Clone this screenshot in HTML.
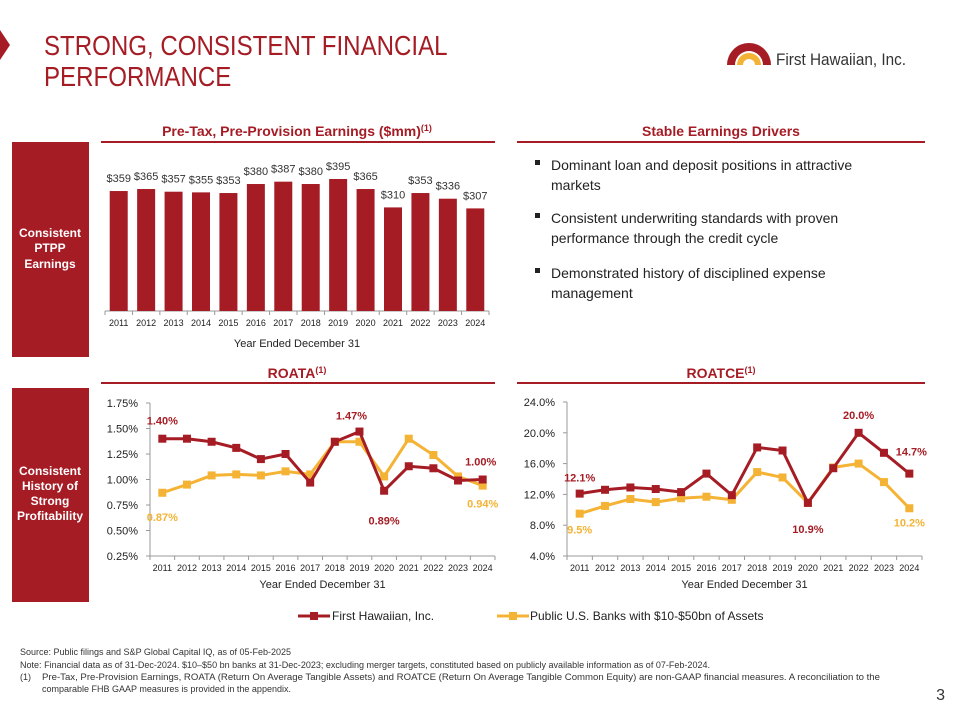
<!DOCTYPE html>
<html><head><meta charset="utf-8"><style>
body{margin:0;background:#fff;}
svg{display:block;font-family:"Liberation Sans",Arial,sans-serif;}
</style></head><body>
<svg id="s" width="960" height="720" viewBox="0 0 960 720" xmlns="http://www.w3.org/2000/svg">
<polygon points="0,30 10,45 0,60" fill="#a51c24"/>
<g fill="#a51c24" font-size="28" transform="translate(44,0) scale(0.86,1)">
<text x="0" y="55">STRONG, CONSISTENT FINANCIAL</text>
<text x="0" y="86">PERFORMANCE</text></g>
<g>
<path d="M727,65 A22,22 0 0 1 771,65 L763,65 A14,14 0 0 0 735,65 Z" fill="#a51c24"/>
<path d="M737,65 A12,12 0 0 1 761,65 L755,65 A6,6 0 0 0 743,65 Z" fill="#f5b335"/>
<text x="776" y="65" font-size="17" fill="#333" transform="translate(776,0) scale(0.9,1) translate(-776,0)">First Hawaiian, Inc.</text></g>

<rect x="12" y="142" width="77" height="215" fill="#a51c24"/>
<g fill="#fff" font-size="12" font-weight="bold" text-anchor="middle">
<text x="50" y="237">Consistent</text><text x="50" y="252">PTPP</text><text x="50" y="268">Earnings</text></g>
<rect x="12" y="388" width="77" height="214" fill="#a51c24"/>
<g fill="#fff" font-size="12" font-weight="bold" text-anchor="middle">
<text x="50" y="475">Consistent</text><text x="50" y="490">History of</text><text x="50" y="505">Strong</text><text x="50" y="520">Profitability</text></g>

<g font-size="14" font-weight="bold" fill="#a51c24" text-anchor="middle">
<text x="297" y="136">Pre-Tax, Pre-Provision Earnings ($mm)<tspan font-size="9" dy="-5">(1)</tspan></text>
<text x="721" y="136">Stable Earnings Drivers</text>
<text x="297" y="378">ROATA<tspan font-size="9" dy="-5">(1)</tspan></text>
<text x="721" y="378">ROATCE<tspan font-size="9" dy="-5">(1)</tspan></text>
<rect x="101" y="141" width="394" height="2"/><rect x="517" y="141" width="408" height="2"/>
<rect x="101" y="382" width="394" height="2"/><rect x="517" y="382" width="408" height="2"/>
</g>

<g font-size="14" fill="#222">
<rect x="535" y="160" width="5" height="5"/><text x="551" y="170">Dominant loan and deposit positions in attractive</text><text x="551" y="190">markets</text>
<rect x="535" y="213" width="5" height="5"/><text x="551" y="223">Consistent underwriting standards with proven</text><text x="551" y="243">performance through the credit cycle</text>
<rect x="535" y="268" width="5" height="5"/><text x="551" y="278">Demonstrated history of disciplined expense</text><text x="551" y="298">management</text>
</g>

<g id="bars"></g>
<g id="roata"></g>
<g id="roatce"></g>

<g font-size="12" fill="#222">
<g><line x1="298" y1="616" x2="330" y2="616" stroke="#a51c24" stroke-width="3"/><rect x="310" y="612" width="8" height="8" fill="#a51c24"/><text x="332" y="620">First Hawaiian, Inc.</text></g>
<g><line x1="497" y1="616" x2="529" y2="616" stroke="#f5b335" stroke-width="3"/><rect x="509" y="612" width="8" height="8" fill="#f5b335"/><text x="530" y="620">Public U.S. Banks with $10-$50bn of Assets</text></g>
</g>

<g font-size="9" fill="#333">
<text x="20" y="655">Source: Public filings and S&amp;P Global Capital IQ, as of 05-Feb-2025</text>
<text x="20" y="668" textLength="690" lengthAdjust="spacingAndGlyphs">Note: Financial data as of 31-Dec-2024. $10–$50 bn banks at 31-Dec-2023; excluding merger targets, constituted based on publicly available information as of 07-Feb-2024.</text>
<text x="20" y="680">(1)</text>
<text x="42" y="680" textLength="838" lengthAdjust="spacingAndGlyphs">Pre-Tax, Pre-Provision Earnings, ROATA (Return On Average Tangible Assets) and ROATCE (Return On Average Tangible Common Equity) are non-GAAP financial measures.  A reconciliation to the</text>
<text x="42" y="692">comparable FHB GAAP measures is provided in the appendix.</text>
</g>
<text x="945" y="700" font-size="16" fill="#333" text-anchor="end">3</text>
</svg>
<script>
const years = ['2011','2012','2013','2014','2015','2016','2017','2018','2019','2020','2021','2022','2023','2024'];
const ptpp = [359,365,357,355,353,380,387,380,395,365,310,353,336,307];
const roataFhb = [1.40,1.40,1.37,1.31,1.20,1.25,0.97,1.37,1.47,0.89,1.13,1.11,0.99,1.00];
const roataPeers = [0.87,0.95,1.04,1.05,1.04,1.08,1.05,1.37,1.37,1.03,1.40,1.24,1.03,0.94];
const roataTicks = [0.25,0.50,0.75,1.00,1.25,1.50,1.75];
const roatceFhb = [12.1,12.6,12.9,12.7,12.3,14.7,11.9,18.1,17.7,10.9,15.4,20.0,17.4,14.7];
const roatcePeers = [9.5,10.5,11.4,11.0,11.5,11.7,11.3,14.9,14.2,10.9,15.5,16.0,13.6,10.2];
const roatceTicks = [4,8,12,16,20,24];

const NS='http://www.w3.org/2000/svg';
const RED='#a51c24', YEL='#f5b335';
function mk(p,tag,a,txt){const e=document.createElementNS(NS,tag);for(const k in a)e.setAttribute(k,a[k]);if(txt!==undefined)e.textContent=txt;p.appendChild(e);return e;}

// Bar chart
(function(){
  const g=document.getElementById('bars');
  const x0=105,x1=489,base=311,band=(x1-x0)/years.length,k=132/395;
  const y=v=>base-v*k;
  mk(g,'line',{x1:x0,y1:base,x2:x1,y2:base,stroke:'#999'});
  years.forEach((yr,i)=>{
    const cx=x0+band*(i+0.5);
    const r=mk(g,'rect',{x:cx-9,y:y(ptpp[i]),width:18,height:base-y(ptpp[i]),fill:RED});
    
    
    const t=mk(g,'text',{x:cx,y:y(ptpp[i])-9,'font-size':11,'text-anchor':'middle',fill:'#333'},'$'+ptpp[i]);
    
    
    const l=mk(g,'text',{x:cx,y:base+15,'font-size':9,'text-anchor':'middle',fill:'#222'},yr);
    
    
    mk(g,'line',{x1:x0+band*i,y1:base,x2:x0+band*i,y2:base+4,stroke:'#999'});
  });
  mk(g,'line',{x1:x1,y1:base,x2:x1,y2:base+4,stroke:'#999'});
  const at=mk(g,'text',{x:297,y:347,'font-size':11,'text-anchor':'middle',fill:'#222'},'Year Ended December 31');
  
  
})();

function lineChart(id,fhb,peers,ticks,fmt,x0,x1,yTop,yBot,labels){
  const g=document.getElementById(id);
  const vmin=ticks[0],vmax=ticks[ticks.length-1],band=(x1-x0)/years.length;
  const y=v=>yBot-(v-vmin)/(vmax-vmin)*(yBot-yTop);
  const x=i=>x0+band*(i+0.5);
  mk(g,'line',{x1:x0,y1:yTop,x2:x0,y2:yBot,stroke:'#999'});
  mk(g,'line',{x1:x0,y1:yBot,x2:x1,y2:yBot,stroke:'#999'});
  ticks.forEach(t=>{
    mk(g,'line',{x1:x0-4,y1:y(t),x2:x0,y2:y(t),stroke:'#999'});
    const e=mk(g,'text',{x:x0-12,y:y(t)+4,'font-size':11,'text-anchor':'end',fill:'#222'},fmt(t));
    
    
  });
  years.forEach((yr,i)=>{
    mk(g,'line',{x1:x0+band*i,y1:yBot,x2:x0+band*i,y2:yBot+4,stroke:'#999'});
    const e=mk(g,'text',{x:x(i),y:yBot+15,'font-size':9,'text-anchor':'middle',fill:'#222'},yr);
    
    
  });
  mk(g,'line',{x1:x1,y1:yBot,x2:x1,y2:yBot+4,stroke:'#999'});
  [[peers,YEL,'peers'],[fhb,RED,'fhb']].forEach(([vals,c,n])=>{
    const p=mk(g,'polyline',{points:vals.map((v,i)=>x(i)+','+y(v)).join(' '),fill:'none',stroke:c,'stroke-width':3});
    
    
    vals.forEach((v,i)=>{
      const m=mk(g,'rect',{x:x(i)-4,y:y(v)-4,width:8,height:8,fill:c});
      
      
    });
  });
  labels.forEach(([s,i,dx,dy])=>{
    const vals=s==='f'?fhb:peers;
    const e=mk(g,'text',{x:x(i)+dx,y:y(vals[i])+dy,'font-size':11,'font-weight':'bold','text-anchor':'middle',fill:s==='f'?RED:YEL},fmt(vals[i]));
    
    
  });
  const at=mk(g,'text',{x:(x0+x1)/2,y:yBot+32,'font-size':11,'text-anchor':'middle',fill:'#222'},'Year Ended December 31');
  
  
}
lineChart('roata',roataFhb,roataPeers,roataTicks,v=>v.toFixed(2)+'%',150,495,403,556,
  [['f',0,0,-14],['f',8,-8,-12],['f',9,0,34],['f',13,-2,-14],['p',0,0,28],['p',13,0,22]]);
lineChart('roatce',roatceFhb,roatcePeers,roatceTicks,v=>v.toFixed(1)+'%',567,922,402,556,
  [['f',0,0,-12],['f',11,0,-14],['f',9,0,30],['f',13,2,-18],['p',0,0,20],['p',13,0,18]]);
</script>
</body></html>
